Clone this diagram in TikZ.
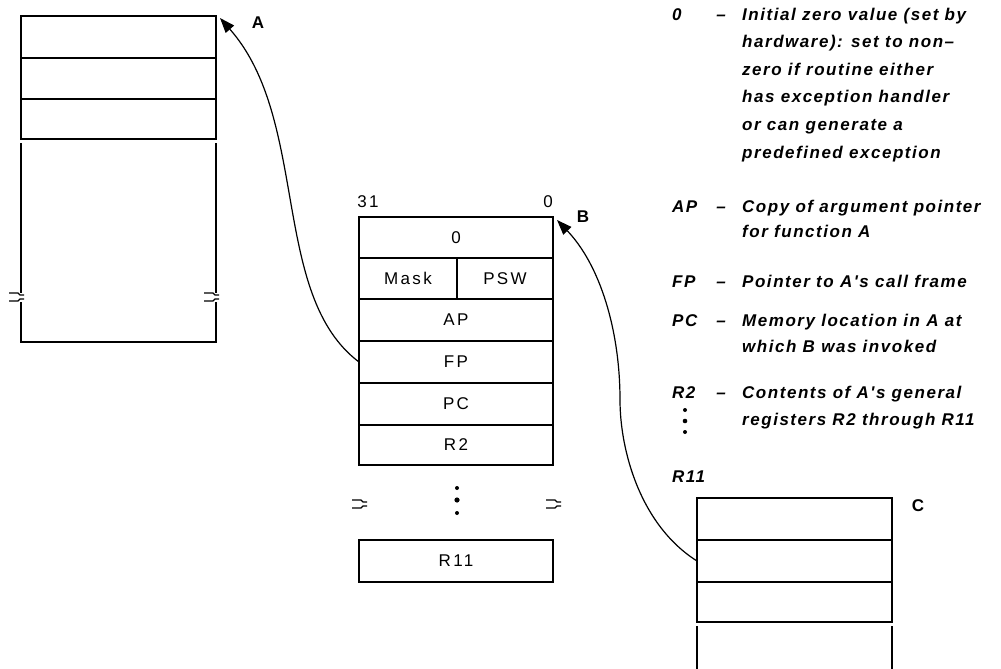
\documentclass[tikz,border=0pt]{standalone}
\usepackage{fontspec}
\setmainfont{Liberation Sans}[LetterSpace=14]
\newfontfamily\notefamily{Liberation Sans}[LetterSpace=9]
\usetikzlibrary{arrows.meta}
\newcommand\lblfont{\fontsize{17}{20}\selectfont}
\newcommand\notefnt{\notefamily\fontsize{17}{20}\selectfont\bfseries\itshape}
\newcommand\brkmark[2]{%
  \draw[brk] (#1-8,#2) -- (#1+1,#2) -- (#1+3,#2+2) -- (#1+7,#2+2);
  \draw[brk] (#1-8,#2+8) -- (#1+1,#2+8) -- (#1+3,#2+6) -- (#1+7,#2+6);}
\tikzset{
  ln/.style={line width=1.5pt},
  brk/.style={line width=1.2pt},
  row/.style={draw, line width=1.5pt, inner sep=0pt, outer sep=0pt,
    minimum width=195pt, minimum height=41pt, font=\lblfont},
  tag/.style={inner sep=0pt, font=\lblfont},
  tagb/.style={inner sep=0pt, font=\lblfont\bfseries},
  note/.style={anchor=base west, inner sep=0pt, font=\notefnt},
  dashn/.style={anchor=base, inner sep=0pt, font=\notefnt},
  arr/.style={line width=1.2pt, -{Triangle[length=15pt,width=11pt]}},
}
\begin{document}
\begin{tikzpicture}[x=1pt,y=-1pt]
\useasboundingbox (0,0) rectangle (1001,669);
% ---- stack A
\node[row, minimum height=42pt] (a1) at (118.5,37) {};
\node[row, minimum height=41pt] (a2) at (118.5,78.5) {};
\node[row, minimum height=40pt] (a3) at (118.5,119) {};
\draw[ln] (21,143) -- (21,293);
\draw[ln] (216,143) -- (216,293);
\draw[ln] (21,302) -- (21,342) -- (216,342) -- (216,302);
\brkmark{17}{293}
\brkmark{212}{293}
\node[tagb] (lA) at (258,23) {A};
% ---- middle stack
\node[tag] (l31) at (368,202) {31};
\node[tag] (l0) at (548,202) {0};
\node[row, minimum width=194pt, minimum height=41pt] (m0) at (456,237.5) {0};
\node[row, minimum width=98pt, minimum height=41pt] (mask) at (408,278.5) {Mask};
\node[row, minimum width=96pt, minimum height=41pt] (psw) at (505,278.5) {PSW};
\node[row, minimum width=194pt, minimum height=42pt] (ap) at (456,320) {AP};
\node[row, minimum width=194pt, minimum height=42pt] (fp) at (456,362) {FP};
\node[row, minimum width=194pt, minimum height=42pt] (pc) at (456,404) {PC};
\node[row, minimum width=194pt, minimum height=40pt] (r2) at (456,445) {R2};
\fill (457,488) circle (2);
\fill (457,500) circle (2.6);
\fill (457,513) circle (2);
\brkmark{360}{500}
\brkmark{554}{500}
\node[row, minimum width=194pt, minimum height=42pt] (r11) at (456,561) {R11};
\node[tagb] (lB) at (583,217) {B};
% ---- stack C
\node[row, minimum height=42pt] (c1) at (794.5,519) {};
\node[row, minimum height=42pt] (c2) at (794.5,561) {};
\node[row, minimum height=40pt] (c3) at (794.5,602) {};
\draw[ln] (697,626) -- (697,669);
\draw[ln] (892,626) -- (892,669);
\node[tagb] (lC) at (918,506) {C};
% ---- arrows
\coordinate (bmid) at (620,400);
\draw[arr] (fp.west) .. controls (270,295) and (310,120) .. ([shift={(4,2)}]a1.north east);
\draw[arr] (c2.west) .. controls (640,525) and (620,450) .. (bmid)
   .. controls (620,330) and (600,265) .. ([shift={(4,3)}]m0.north east);
% ---- notes
\node[note] (k0) at (672,21) {0};
\node[dashn] (d0) at (721,21) {–};
\node[note] (t01) at (742,21) {Initial zero value (set by};
\node[note] (t02) at (742,48) {hardware): set to non–};
\node[note] (t03) at (742,75) {zero if routine either};
\node[note] (t04) at (742,102) {has exception handler};
\node[note] (t05) at (742,130) {or can generate a};
\node[note] (t06) at (742,158) {predefined exception};
\node[note] (kap) at (672,212) {AP};
\node[dashn] (dap) at (721,212) {–};
\node[note] (t11) at (742,212) {Copy of argument pointer};
\node[note] (t12) at (742,237) {for function A};
\node[note] (kfp) at (672,287) {FP};
\node[dashn] (dfp) at (721,287) {–};
\node[note] (t21) at (742,287) {Pointer to A's call frame};
\node[note] (kpc) at (672,326) {PC};
\node[dashn] (dpc) at (721,326) {–};
\node[note] (t31) at (742,326) {Memory location in A at};
\node[note] (t32) at (742,352) {which B was invoked};
\node[note] (kr2) at (672,398) {R2};
\node[dashn] (dr2) at (721,398) {–};
\node[note] (t41) at (742,398) {Contents of A's general};
\node[note] (t42) at (742,425) {registers R2 through R11};
\fill (685,410) circle (2);
\fill (685,421) circle (2.3);
\fill (685,432) circle (2);
\node[note] (kr11) at (672,482) {R11};
\end{tikzpicture}
\end{document}
